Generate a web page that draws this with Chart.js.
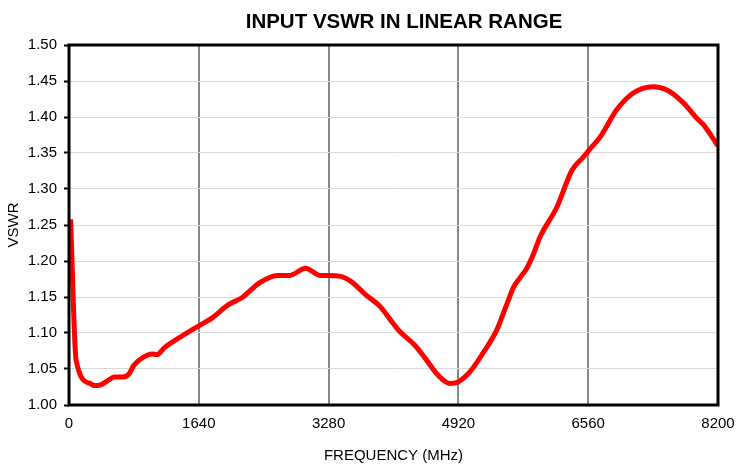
<!DOCTYPE html>
<html>
<head>
<meta charset="utf-8">
<script src="https://cdn.jsdelivr.net/npm/chart.js@4"></script>
<style>
  html, body { margin: 0; padding: 0; background: #fff; }
  #wrap { width: 738px; height: 469px; }
</style>
</head>
<body>
<div id="wrap"><canvas id="vswrChart" width="738" height="469"></canvas></div>
<script>
// frequency in MHz
const freq = [20, 90, 265, 320, 400, 520, 570, 680, 750, 820, 935, 1050, 1110, 1210, 1400,
    1640, 1810, 2010, 2185, 2410, 2630, 2790, 2990, 3170, 3280, 3420, 3570, 3750, 3930, 4050,
    4180, 4370, 4520, 4650, 4810, 4915, 5065, 5230, 5404, 5490, 5560, 5614, 5700, 5785, 5870,
    5950, 6165, 6355, 6495, 6570, 6710, 6920, 7125, 7380, 7555, 7760, 7935, 8010, 8200];
const vswr = [1.258, 1.062, 1.030, 1.027, 1.028, 1.036, 1.039, 1.039, 1.042, 1.055, 1.066,
    1.071, 1.070, 1.080, 1.094, 1.110, 1.121, 1.139, 1.149, 1.170, 1.180, 1.180, 1.190, 1.180,
    1.180, 1.179, 1.171, 1.153, 1.137, 1.120, 1.102, 1.083, 1.062, 1.043, 1.030, 1.032, 1.046,
    1.072, 1.104, 1.128, 1.148, 1.163, 1.177, 1.190, 1.210, 1.233, 1.275, 1.326, 1.344, 1.354,
    1.372, 1.410, 1.433, 1.442, 1.4375, 1.420, 1.398, 1.390, 1.360];
const xTicks = [0, 1640, 3280, 4920, 6560, 8200];
const yMin = 1.0, yMax = 1.5, yStep = 0.05;
const chartTitle = 'INPUT VSWR IN LINEAR RANGE';

const points = freq.map((f, i) => ({ x: f, y: vswr[i] }));
const FONT = 'Liberation Sans, Arial, sans-serif';

// black frame round the plot area, and the title placed as in the original
const frame = {
    id: 'frame',
    afterDraw(chart) {
        const a = chart.chartArea;
        const c = chart.ctx;
        c.save();
        c.strokeStyle = '#000';
        c.lineWidth = 3;
        c.strokeRect(a.left, a.top, a.right - a.left, a.bottom - a.top);
        c.fillStyle = '#000';
        c.font = 'bold 20.5px ' + FONT;
        c.textAlign = 'center';
        c.textBaseline = 'middle';
        c.fillText(chartTitle, 404, 22);
        c.restore();
    }
};

new Chart(document.getElementById('vswrChart'), {
    type: 'line',
    data: {
        datasets: [{
            data: points,
            borderColor: '#ff0000',
            borderWidth: 5,
            pointRadius: 0,
            fill: false,
            cubicInterpolationMode: 'monotone'
        }]
    },
    options: {
        responsive: false,
        animation: false,
        layout: { padding: { left: 0, right: 20, top: 45, bottom: 0 } },
        plugins: {
            legend: { display: false },
            tooltip: { enabled: false },
            title: { display: false }
        },
        scales: {
            x: {
                type: 'linear',
                min: 0,
                max: 8200,
                afterBuildTicks: s => { s.ticks = xTicks.map(v => ({ value: v })); },
                afterFit: s => { s.height = 64; s.paddingRight = 0; },
                grid: { color: '#888', lineWidth: 2, drawTicks: false },
                border: { display: false },
                ticks: {
                    color: '#000',
                    padding: 10,
                    maxRotation: 0,
                    callback: v => String(v),
                    font: { family: FONT, size: 15 }
                },
                title: {
                    display: true,
                    text: 'FREQUENCY (MHz)',
                    color: '#000',
                    padding: { top: 0, bottom: 4 },
                    font: { family: FONT, size: 15 }
                }
            },
            y: {
                min: yMin,
                max: yMax,
                afterFit: s => { s.width = 69; s.paddingTop = 0; s.paddingBottom = 0; },
                grid: { color: '#d9d9d9', lineWidth: 1, tickColor: '#000', tickLength: 5, tickWidth: 2 },
                border: { display: false },
                ticks: {
                    stepSize: yStep,
                    color: '#000',
                    padding: 7,
                    callback: v => v.toFixed(2),
                    font: { family: FONT, size: 15 }
                },
                title: {
                    display: true,
                    text: 'VSWR',
                    color: '#000',
                    padding: { top: 5, bottom: 0 },
                    font: { family: FONT, size: 15 }
                }
            }
        }
    },
    plugins: [frame]
});
</script>
</body>
</html>
